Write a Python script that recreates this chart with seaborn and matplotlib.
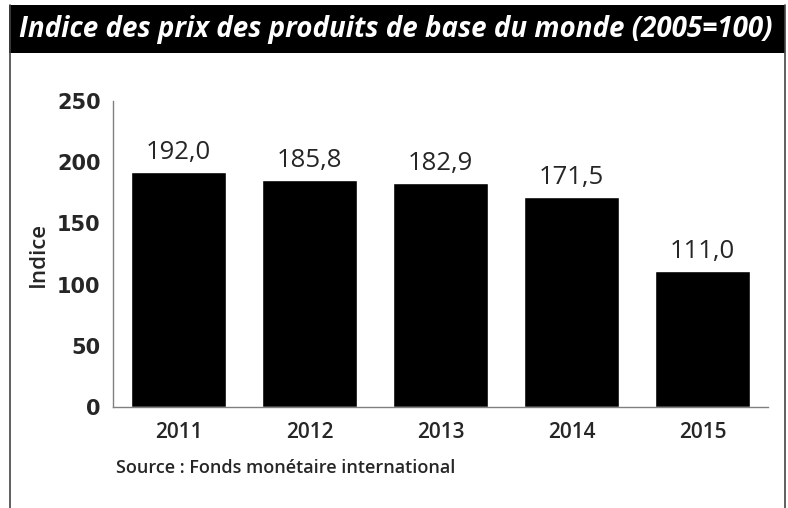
import matplotlib
matplotlib.use("Agg")
import matplotlib.pyplot as plt
import pandas as pd
import seaborn as sns
from matplotlib.patches import Rectangle
from matplotlib.lines import Line2D

# data
years = ["2011", "2012", "2013", "2014", "2015"]
values = [192.0, 185.8, 182.9, 171.5, 111.0]
y_ticks = [0, 50, 100, 150, 200, 250]

title = "Indice des prix des produits de base du monde (2005=100)"
source = "Source : Fonds monétaire international"

sns.set_theme(style="white")
plt.rcParams["font.family"] = ["Open Sans", "DejaVu Sans"]

W, H = 788, 508
fig = plt.figure(figsize=(W / 100, H / 100), dpi=100)


def px(x, y):
    return x / W, 1 - y / H


# frame and title banner
fig.patches.append(Rectangle(px(9, 53), (785 - 9) / W, 48 / H, transform=fig.transFigure,
                             facecolor="black", edgecolor="none"))
for xl in (9.5, 785):
    fig.add_artist(Line2D([xl / W, xl / W], [0, 1 - 5 / H], transform=fig.transFigure,
                          color="#444444", lw=1.2))
fig.text(px(396, 30)[0], px(396, 30)[1], title, color="white", fontsize=20,
         fontweight="bold", fontstyle="italic", ha="center", va="center")

ax = fig.add_axes([113 / W, (H - 407) / H, (768 - 113) / W, (407 - 101) / H])
df = pd.DataFrame({"year": years, "value": values})
sns.barplot(data=df, x="year", y="value", color="black", saturation=1, width=0.73, ax=ax)

ax.set_ylim(0, 250)
ax.set_xlim(-0.5, 4.5)
ax.set_yticks(y_ticks)
ax.set_yticklabels([str(t) for t in y_ticks], family="DejaVu Sans", fontweight="bold",
                   fontsize=15)
ax.tick_params(axis="y", length=0, pad=9)
ax.tick_params(axis="x", length=0, pad=11, labelsize=15)
for lab in ax.get_xticklabels():
    lab.set_fontweight("semibold")
ax.set_xlabel("")
ax.set_ylabel("Indice", fontsize=16, fontweight="semibold", labelpad=6)

for side in ("top", "right"):
    ax.spines[side].set_visible(False)
for side in ("left", "bottom"):
    ax.spines[side].set_color("#808080")
    ax.spines[side].set_linewidth(1.0)

ax.bar_label(ax.containers[0], labels=[f"{v:.1f}".replace(".", ",") for v in values],
             padding=5, fontsize=18.5, fontweight="medium")

fig.text(116 / W, 1 - 468 / H, source, fontsize=13, fontweight="semibold",
         ha="left", va="center")

fig.savefig("out.png", dpi=100)
